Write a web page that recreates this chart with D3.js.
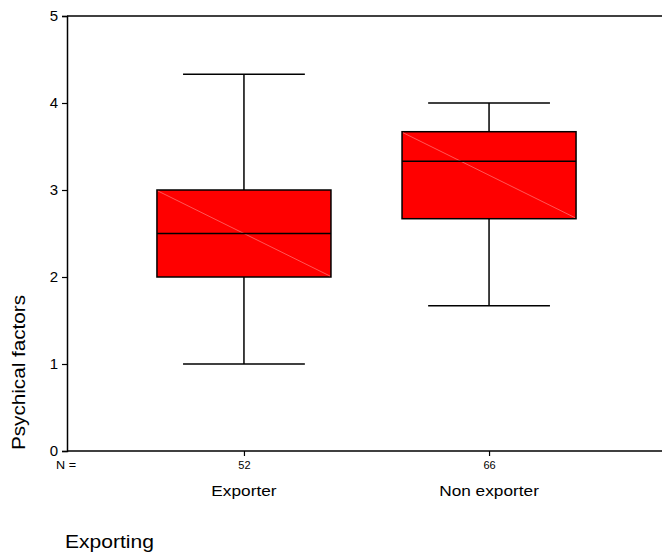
<!DOCTYPE html>
<html lang="en">
<head>
    <meta charset="UTF-8">
    <title>Psychical factors by exporting</title>
    <script src="https://d3js.org/d3.v7.min.js"></script>
    <style>
        body {
            margin: 0;
            padding: 0;
            background: #fff;
            font-family: "Liberation Sans", Arial, sans-serif;
        }
        svg {
            display: block;
        }
    </style>
</head>
<body>
    <svg id="chart" width="662" height="552"></svg>
    <script>
        // groups and their box statistics
        const categories = ["Exporter", "Non exporter"];
        const counts = [52, 66];
        const whiskerLow = [1.0, 1.67];
        const q1 = [2.0, 2.67];
        const median = [2.5, 3.33];
        const q3 = [3.0, 3.67];
        const whiskerHigh = [4.33, 4.0];
        const yTicks = [0, 1, 2, 3, 4, 5];

        const svg = d3.select("#chart");

        const plotLeft = 67, plotRight = 666, plotTop = 16, plotBottom = 451;
        // the original text is a little wider than Arial, stretch it along the baseline
        const widen = 1.15;

        const x = d3.scalePoint()
            .domain(categories)
            .range([plotLeft, plotRight])
            .padding(0.722);

        const y = d3.scaleLinear()
            .domain([0, 5])
            .range([plotBottom, plotTop]);

        const boxW = x.step() * 0.71;
        const capW = boxW * 0.7;

        // frame: top line, left axis, bottom axis
        svg.append("line")
            .attr("x1", plotLeft).attr("x2", 662)
            .attr("y1", plotTop).attr("y2", plotTop)
            .attr("stroke", "#000").attr("stroke-width", 1.5);

        const yAxis = svg.append("g")
            .attr("transform", `translate(${plotLeft},0)`)
            .call(d3.axisLeft(y).tickValues(yTicks).tickFormat(d3.format("d")).tickSize(5).tickPadding(4));
        yAxis.select(".domain").attr("stroke-width", 1.5);
        yAxis.selectAll(".tick line").attr("stroke-width", 1.2);
        yAxis.selectAll("text")
            .attr("font-size", 15)
            .attr("font-family", "Liberation Sans, Arial, sans-serif")
            .attr("fill", "#000");

        const xAxis = svg.append("g")
            .attr("transform", `translate(0,${plotBottom})`)
            .call(d3.axisBottom(x).tickSize(5).tickFormat((d, i) => counts[i]).tickPadding(5));
        xAxis.select(".domain")
            .attr("d", `M${plotLeft},0H662`)
            .attr("stroke-width", 1.5);
        xAxis.selectAll(".tick line").attr("stroke-width", 1.2);
        xAxis.selectAll("text")
            .attr("font-size", 11)
            .attr("font-family", "Liberation Sans, Arial, sans-serif")
            .attr("fill", "#000");

        // "N =" label
        svg.append("text")
            .attr("transform", `translate(56,469) scale(${widen},1)`)
            .attr("font-size", 11)
            .text("N =");

        // category names
        svg.selectAll(".cat")
            .data(categories)
            .join("text")
            .attr("class", "cat")
            .attr("transform", d => `translate(${x(d)},496) scale(${widen},1)`)
            .attr("text-anchor", "middle")
            .attr("font-size", 15)
            .text(d => d);

        // axis titles
        svg.append("text")
            .attr("transform", `translate(25,${(plotBottom + 294) / 2}) rotate(-90) scale(${widen},1)`)
            .attr("text-anchor", "middle")
            .attr("font-size", 18)
            .text("Psychical factors");

        svg.append("text")
            .attr("transform", `translate(65,548) scale(${widen + 0.02},1)`)
            .attr("font-size", 18)
            .text("Exporting");

        // boxes
        const g = svg.selectAll(".box")
            .data(categories)
            .join("g")
            .attr("class", "box");

        // whisker stems
        g.append("line")
            .attr("x1", d => x(d)).attr("x2", d => x(d))
            .attr("y1", (d, i) => y(whiskerHigh[i]))
            .attr("y2", (d, i) => y(q3[i]))
            .attr("stroke", "#000").attr("stroke-width", 1.5);
        g.append("line")
            .attr("x1", d => x(d)).attr("x2", d => x(d))
            .attr("y1", (d, i) => y(q1[i]))
            .attr("y2", (d, i) => y(whiskerLow[i]))
            .attr("stroke", "#000").attr("stroke-width", 1.5);

        // whisker caps
        [whiskerHigh, whiskerLow].forEach(arr => {
            g.append("line")
                .attr("x1", d => x(d) - capW / 2).attr("x2", d => x(d) + capW / 2)
                .attr("y1", (d, i) => y(arr[i]))
                .attr("y2", (d, i) => y(arr[i]))
                .attr("stroke", "#000").attr("stroke-width", 1.5);
        });

        // box body
        g.append("rect")
            .attr("x", d => x(d) - boxW / 2)
            .attr("y", (d, i) => y(q3[i]))
            .attr("width", boxW)
            .attr("height", (d, i) => y(q1[i]) - y(q3[i]))
            .attr("fill", "#ff0000")
            .attr("stroke", "#000")
            .attr("stroke-width", 1.5);

        // faint diagonal
        g.append("line")
            .attr("x1", d => x(d) - boxW / 2 + 1).attr("x2", d => x(d) + boxW / 2 - 1)
            .attr("y1", (d, i) => y(q3[i]) + 1)
            .attr("y2", (d, i) => y(q1[i]) - 1)
            .attr("stroke", "#ff9090").attr("stroke-width", 0.6);

        // median
        g.append("line")
            .attr("x1", d => x(d) - boxW / 2).attr("x2", d => x(d) + boxW / 2)
            .attr("y1", (d, i) => y(median[i]))
            .attr("y2", (d, i) => y(median[i]))
            .attr("stroke", "#000").attr("stroke-width", 1.5);
    </script>
</body>
</html>
